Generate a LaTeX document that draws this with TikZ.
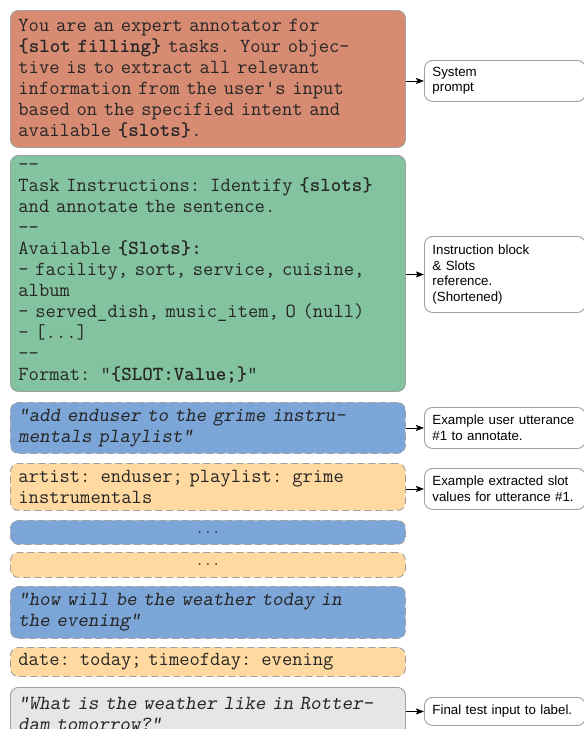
\documentclass[tikz,border=0pt]{standalone}
\usepackage{fontspec}
\setmainfont{Liberation Sans}
\usetikzlibrary{arrows.meta}
\newcommand{\cour}{\ttfamily}
\definecolor{cred}{HTML}{D78B72}
\definecolor{cgreen}{HTML}{83C39F}
\definecolor{cblue}{HTML}{7CA6D8}
\definecolor{corange}{HTML}{FFD9A0}
\definecolor{cgray}{HTML}{E6E6E6}
\definecolor{cborder}{HTML}{A0A0A0}
\definecolor{ctext}{HTML}{262626}
\begin{document}
\begin{tikzpicture}[x=1pt,y=-1pt,
  mainbox/.style={draw=cborder, line width=0.9pt, rounded corners=8pt,
    anchor=north west, text width=379pt, inner xsep=8pt, inner ysep=2pt,
    align=left, text=ctext,
    font=\cour\fontsize{20}{21}\selectfont},
  solidbox/.style={mainbox},
  dashbox/.style={mainbox, dash pattern=on 7pt off 4pt},
  dotsbox/.style={dashbox, align=center},
  itfont/.style={font=\cour\slshape\fontsize{20}{21}\selectfont},
  labelbox/.style={draw=cborder, line width=0.9pt, fill=white, rounded corners=8pt,
    anchor=north west, text width=145pt, inner xsep=8pt, inner ysep=2pt,
    align=left, text=black,
    font=\fontsize{13.3}{15.5}\selectfont},
  arr/.style={-{Stealth[length=8pt,width=6pt,inset=1.5pt]}, line width=0.9pt, black}
]
\useasboundingbox (0,0) rectangle (584,729);

% main blocks
\node[solidbox, fill=cred, minimum height=137pt] (sys) at (10,10)
 {You are an expert annotator for\\
  \textbf{\{slot filling\}} tasks. Your objec-\\
  tive is to extract all relevant\\
  information from the user's input\\
  based on the specified intent and\\
  available \textbf{\{slots\}}.};

\node[solidbox, fill=cgreen, minimum height=236pt] (instr) at (10,155)
 {-{}-\\
  Task Instructions: Identify \textbf{\{slots\}}\\
  and annotate the sentence.\\
  -{}-\\
  Available \textbf{\{Slots\}:}\\
  - facility, sort, service, cuisine,\\
  album\\
  - served\_dish, music\_item, O (null)\\
  - [...]\\
  -{}-\\
  Format: "\textbf{\{SLOT:Value;\}}"};

\node[dashbox, fill=cblue, minimum height=51pt, itfont] (ex1) at (10,402)
 {"add enduser to the grime instru-\\
  mentals playlist"};

\node[dashbox, fill=corange, minimum height=47pt] (ans1) at (10,463)
 {artist: enduser; playlist: grime\\
  instrumentals};

\node[dotsbox, fill=cblue, minimum height=24pt, font=\cour\fontsize{16}{16}\selectfont] (dots1) at (10,520) {...};

\node[dotsbox, fill=corange, minimum height=25pt, font=\cour\fontsize{16}{16}\selectfont] (dots2) at (10,552) {...};

\node[dashbox, fill=cblue, minimum height=52pt, itfont] (ex2) at (10,586)
 {"how will be the weather today in\\
  the evening"};

\node[dashbox, fill=corange, minimum height=29pt] (ans2) at (10,647)
 {date: today; timeofday: evening};

\node[solidbox, fill=cgray, minimum height=52pt, itfont] (test) at (10,687)
 {"What is the weather like in Rotter-\\
  dam tomorrow?"};

% labels
\node[labelbox, minimum height=41pt] (lsys) at (424,60) {System\\prompt};
\node[labelbox, minimum height=76pt] (linstr) at (424,236) {Instruction block\\\& Slots\\reference.\\(Shortened)};
\node[labelbox, minimum height=41pt] (lex1) at (424,407) {Example user utterance\\\#1 to annotate.};
\node[labelbox, minimum height=41pt] (lans1) at (424,468) {Example extracted slot\\values for utterance \#1.};
\node[labelbox, minimum height=28pt] (ltest) at (424,697) {Final test input to label.};

% arrows
\draw[arr] (sys.east |- lsys.west) -- (lsys.west);
\draw[arr] (instr.east |- linstr.west) -- (linstr.west);
\draw[arr] (ex1.east |- lex1.west) -- (lex1.west);
\draw[arr] (ans1.east |- lans1.west) -- (lans1.west);
\draw[arr] (test.east |- ltest.west) -- (ltest.west);
\end{tikzpicture}
\end{document}
